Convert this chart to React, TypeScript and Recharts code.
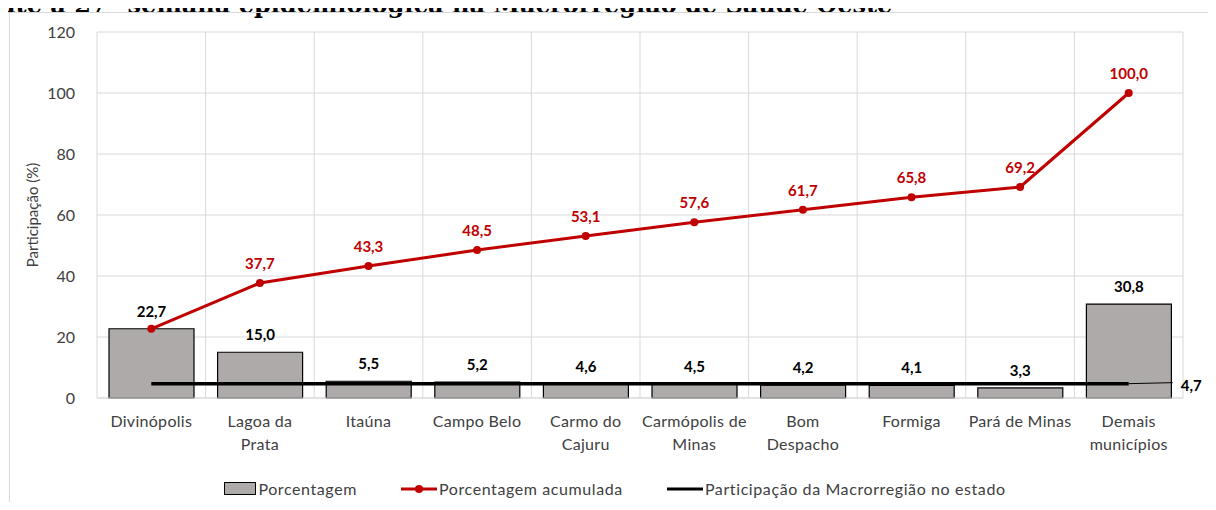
import {
  Bar,
  CartesianGrid,
  ComposedChart,
  LabelList,
  Line,
  XAxis,
  YAxis,
} from 'recharts';

const categories = [
  'Divinópolis',
  'Lagoa da Prata',
  'Itaúna',
  'Campo Belo',
  'Carmo do Cajuru',
  'Carmópolis de Minas',
  'Bom Despacho',
  'Formiga',
  'Pará de Minas',
  'Demais municípios',
];

// how each category label wraps under the axis
const tickLines: string[][] = [
  ['Divinópolis'],
  ['Lagoa da', 'Prata'],
  ['Itaúna'],
  ['Campo Belo'],
  ['Carmo do', 'Cajuru'],
  ['Carmópolis de', 'Minas'],
  ['Bom', 'Despacho'],
  ['Formiga'],
  ['Pará de Minas'],
  ['Demais', 'municípios'],
];

const percentages = [22.7, 15.0, 5.5, 5.2, 4.6, 4.5, 4.2, 4.1, 3.3, 30.8];
const cumulative = [22.7, 37.7, 43.3, 48.5, 53.1, 57.6, 61.7, 65.8, 69.2, 100.0];
const stateShare = [4.7, 4.7, 4.7, 4.7, 4.7, 4.7, 4.7, 4.7, 4.7, 4.7];
const yTicks = [0, 20, 40, 60, 80, 100, 120];

const data = categories.map((name, i) => ({
  name,
  pct: percentages[i],
  cum: cumulative[i],
  state: stateShare[i],
}));

const FONT = 'Lato, "Open Sans", sans-serif';
const TEXT = '#404040';
const RED = '#C00000';
const BAR = '#AEAAAA';
const GRID = '#D9D9D9';

const fmt = (v: number) => v.toFixed(1).replace('.', ',');

function CategoryTick({ x, y, payload }: any) {
  const lines = tickLines[categories.indexOf(payload.value)] ?? [payload.value];
  return (
    <text x={x} y={y} textAnchor="middle" fill={TEXT} fontSize={16} letterSpacing={0.3} fontFamily={FONT}>
      {lines.map((l, i) => (
        <tspan key={i} x={x} dy={i === 0 ? 27 : 23}>
          {l}
        </tspan>
      ))}
    </text>
  );
}

function CumLabel({ x, y, value, index }: any) {
  if (index === 0) return null;
  return (
    <text x={x} y={y - 14} textAnchor="middle" fill={RED} fontSize={15} fontWeight={700} fontFamily={FONT}>
      {fmt(value)}
    </text>
  );
}

function StateLabel({ x, y, value, index }: any) {
  if (index !== categories.length - 1) return null;
  return (
    <g>
      <line x1={x} y1={y} x2={x + 44} y2={y - 1} stroke="#000" strokeWidth={1} />
      <text x={x + 52} y={y + 7} fill="#000" fontSize={15} fontWeight={700} fontFamily={FONT}>
        {fmt(value)}
      </text>
    </g>
  );
}

function LegendRow() {
  const item = { display: 'flex', alignItems: 'center' } as const;
  return (
    <div
      style={{
        position: 'absolute',
        top: 479,
        left: 0,
        width: 1216,
        display: 'flex',
        justifyContent: 'center',
        gap: 44,
        fontFamily: FONT,
        fontSize: 16,
        letterSpacing: 0.6,
        color: TEXT,
        paddingLeft: 14,
        boxSizing: 'border-box',
      }}
    >
      <div style={item}>
        <span style={{ width: 30, height: 11, background: BAR, border: '1px solid #000', marginRight: 2 }} />
        Porcentagem
      </div>
      <div style={item}>
        <svg width={36} height={12} style={{ marginRight: 2 }}>
          <line x1={0} y1={6} x2={36} y2={6} stroke={RED} strokeWidth={3} />
          <circle cx={18} cy={6} r={4} fill={RED} />
        </svg>
        Porcentagem acumulada
      </div>
      <div style={item}>
        <svg width={36} height={12} style={{ marginRight: 2 }}>
          <line x1={0} y1={6} x2={36} y2={6} stroke="#000" strokeWidth={3} />
        </svg>
        Participação da Macrorregião no estado
      </div>
    </div>
  );
}

export default function App() {
  return (
    <div style={{ position: 'relative', width: 1216, height: 510, margin: -8, overflow: 'hidden', background: '#fff' }}>
      <div
        style={{
          position: 'absolute',
          top: -7,
          left: 0,
          whiteSpace: 'nowrap',
          fontFamily: '"DejaVu Serif", serif',
          fontWeight: 700,
          fontSize: 24,
          lineHeight: '24px',
          color: '#000',
        }}
      >
        até a 27ª semana epidemiológica na Macrorregião de Saúde Oeste
      </div>
      <div
        style={{
          position: 'absolute',
          top: 12,
          left: 9,
          width: 1204,
          height: 520,
          border: `1px solid ${GRID}`,
        }}
      />
      <div style={{ position: 'absolute', top: 0, left: 0 }}>
        <ComposedChart
          width={1216}
          height={510}
          data={data}
          margin={{ top: 32, right: 33, bottom: 52, left: 0 }}
          barSize={85}
        >
          <CartesianGrid
            stroke={GRID}
            strokeWidth={1}
            verticalCoordinatesGenerator={({ offset }: any) =>
              categories.concat(['']).map((_, i) => offset.left + (i * offset.width) / categories.length)
            }
          />
          <XAxis
            dataKey="name"
            height={60}
            tick={<CategoryTick />}
            tickLine={false}
            axisLine={{ stroke: GRID }}
            tickSize={0}
            interval={0}
          />
          <YAxis
            width={97}
            domain={[0, 120]}
            ticks={yTicks}
            tick={{ fill: TEXT, fontSize: 16, fontFamily: FONT }}
            tickLine={false}
            axisLine={false}
            tickSize={0}
            tickMargin={22}
            label={{
              content: ({ viewBox }: any) => (
                <text
                  transform={`translate(38, ${viewBox.y + viewBox.height / 2}) rotate(-90)`}
                  textAnchor="middle"
                  fill={TEXT}
                  fontSize={15}
                  fontFamily={FONT}
                >
                  Participação (%)
                </text>
              ),
            }}
          />
          <Bar dataKey="pct" fill={BAR} stroke="#000" strokeWidth={1.2} isAnimationActive={false}>
            <LabelList
              dataKey="pct"
              position="top"
              offset={12}
              formatter={(v: any) => fmt(Number(v))}
              style={{ fill: '#000', fontSize: 15, fontWeight: 700, fontFamily: FONT }}
            />
          </Bar>
          <Line
            dataKey="state"
            stroke="#000"
            strokeWidth={3.5}
            dot={false}
            activeDot={false}
            isAnimationActive={false}
            label={<StateLabel />}
          />
          <Line
            dataKey="cum"
            stroke={RED}
            strokeWidth={3}
            dot={{ r: 4, fill: RED, stroke: RED, strokeWidth: 0 }}
            activeDot={false}
            isAnimationActive={false}
            label={<CumLabel />}
          />
        </ComposedChart>
      </div>
      <LegendRow />
    </div>
  );
}
